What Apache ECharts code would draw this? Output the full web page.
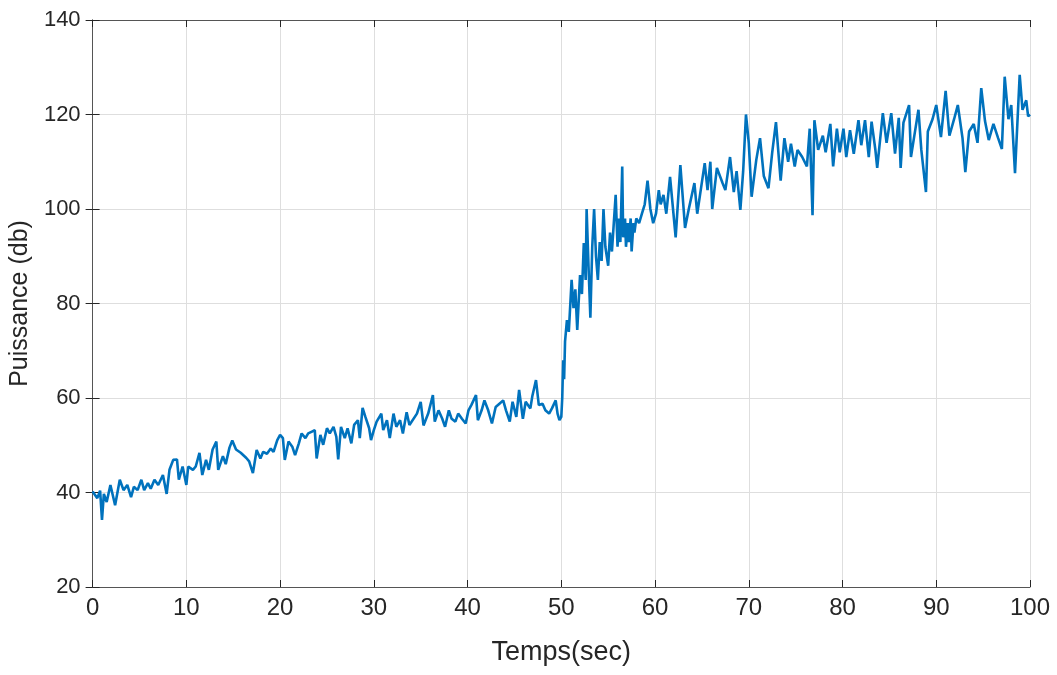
<!DOCTYPE html>
<html>
<head>
<meta charset="utf-8">
<title>Puissance</title>
<script src="https://cdn.jsdelivr.net/npm/echarts@6/dist/echarts.min.js"></script>
<style>
  html, body { margin: 0; padding: 0; background: #fff; }
  #chart { width: 1057px; height: 675px; }
</style>
</head>
<body>
<div id="chart"></div>
<script>
// valeurs (temps en s, puissance en db)
var tempsSec = [
  0, 0.5, 0.8, 1.0, 1.2, 1.5, 1.9, 2.4, 2.9, 3.3, 3.7, 4.1, 4.4, 4.8, 5.2, 5.5, 5.9, 6.2, 6.6, 7.0,
  7.5, 7.9, 8.2, 8.6, 9.0, 9.2, 9.6, 10.0, 10.2, 10.7, 11.0, 11.4, 11.7, 12.1, 12.4, 12.8, 13.2, 13.4,
  13.9, 14.2, 14.6, 14.9, 15.3, 15.8, 16.4, 16.7,
  17.1, 17.5, 17.9, 18.2, 18.6, 19.0, 19.3, 19.7, 20.0, 20.3, 20.5, 20.9, 21.3, 21.6, 22.0, 22.3, 22.7,
  23.0, 23.4, 23.7, 23.9, 24.3, 24.6, 25.0, 25.3, 25.7, 26.0, 26.2, 26.5, 26.9, 27.2, 27.6, 27.9, 28.3,
  28.5, 28.8, 29.1, 29.5, 29.7, 30.0, 30.3, 30.8, 31.0, 31.4, 31.7, 32.1, 32.4, 32.8, 33.1,
  33.5, 33.8, 34.0, 34.6, 35.0, 35.3, 35.8, 36.3, 36.5, 36.9, 37.3, 37.6, 38.0, 38.3, 38.7, 39.0, 39.4,
  39.8, 40.1, 40.4, 40.9, 41.1, 41.5, 41.8, 42.2, 42.6, 43.0, 43.4, 43.8, 44.1, 44.5, 44.8, 45.2, 45.5,
  45.9, 46.2, 46.7, 46.9, 47.3, 47.6, 48.0, 48.3, 48.7, 49.0, 49.4, 49.6, 49.8,
  50.0, 50.1, 50.2, 50.3, 50.4, 50.6, 50.8, 51.1, 51.3, 51.5, 51.7, 52.0, 52.2, 52.4, 52.6, 52.7, 52.9,
  53.1, 53.3, 53.5, 53.7, 53.9, 54.1, 54.3, 54.5, 54.7, 55.0, 55.2, 55.4, 55.6, 55.8, 56.0, 56.1, 56.3,
  56.5, 56.6, 56.8, 56.9, 57.1, 57.2, 57.4, 57.5, 57.7, 57.8, 58.0, 58.3, 58.6, 58.9, 59.2, 59.5, 59.8,
  60.1, 60.4, 60.6, 60.9, 61.2,
  61.6, 62.2, 62.7, 63.2, 63.6, 64.2, 64.5, 65.3, 65.6, 65.9, 66.1, 66.6, 67.2, 67.5, 68.0, 68.4, 68.7,
  69.1, 69.4, 69.7, 70.0, 70.3, 70.8, 71.2, 71.6, 72.1, 72.5, 72.9, 73.4, 73.8, 74.2, 74.5, 74.9, 75.2,
  75.7, 76.2, 76.5, 76.8, 77.0, 77.4, 77.9, 78.2, 78.7, 79.0, 79.4,
  79.7, 80.1, 80.4, 80.8, 81.2, 81.7, 82.0, 82.4, 82.8, 83.1, 83.5, 83.7, 84.3, 84.7, 85.2, 85.6, 86.0,
  86.2, 86.5, 87.1, 87.3, 87.7, 88.1, 88.4, 88.9, 89.1, 89.6, 90.0, 90.5, 91.0, 91.4, 91.9, 92.3, 92.8,
  93.1, 93.5, 94.0, 94.4, 94.8, 95.2, 95.6, 96.1, 96.6, 97.0, 97.3, 97.7, 98.0, 98.4, 98.9, 99.2, 99.6,
  99.8, 100
];
var puissanceDb = [
  40.2, 38.8, 40.4, 34.2, 39.7, 38.0, 41.6, 37.3, 42.7, 40.5, 41.6, 39.0, 41.2, 40.5, 42.7, 40.5, 42.0, 40.8, 42.7, 41.6,
  43.7, 39.7, 44.8, 46.9, 47.0, 42.7, 45.5, 41.6, 45.5, 44.8, 45.5, 48.4, 43.7, 46.9, 44.8, 49.1, 50.8, 44.8,
  47.7, 46.0, 49.5, 51.0, 49.1, 48.4, 47.3, 46.6,
  44.1, 49.0, 47.2, 48.6, 48.2, 49.3, 48.6, 51.1, 52.2, 51.5, 46.9, 50.8, 49.7, 47.9, 50.4, 52.5, 51.5,
  52.5, 52.9, 53.2, 47.2, 52.2, 50.1, 53.6, 52.5, 53.9, 51.8, 47.0, 53.9, 51.5, 53.6, 50.4, 54.3, 55.3,
  51.5, 57.9, 56.0, 53.6, 51.1, 53.2, 55.0, 56.7, 53.2, 55.3, 51.5, 56.7, 53.9, 55.3, 52.5,
  57.0, 54.3, 54.2, 56.7, 59.2, 54.2, 56.7, 60.6, 55.0, 57.4, 55.6, 53.9, 57.4, 55.6, 55.0, 56.7, 55.6,
  54.6, 57.4, 58.5, 60.6, 55.3, 57.4, 59.5, 57.4, 54.6, 58.1, 58.8, 59.5, 57.4, 55.0, 59.2, 56.0, 61.7,
  55.6, 59.2, 57.8, 60.3, 63.8, 58.5, 58.8, 57.4, 56.7, 57.8, 59.5, 56.7, 55.3,
  56.0, 60.0, 68.0, 64.0, 72.0, 76.5, 74.0, 85.0, 79.0, 83.0, 74.4, 86.0, 82.0, 92.8, 85.0, 100.0, 88.0,
  77.0, 92.0, 100.0, 90.0, 85.0, 93.0, 89.0, 100.0, 92.0, 88.0, 95.0, 91.0, 97.0, 103.0, 92.0, 98.0, 93.0,
  109.0, 94.0, 98.0, 92.0, 97.0, 93.0, 98.0, 91.0, 97.0, 95.0, 98.0, 97.0, 99.0, 101.0, 106.0, 100.0, 97.0,
  99.0, 104.0, 101.0, 103.0, 99.0,
  106.8, 94.0, 109.3, 96.0, 100.0, 105.5, 99.0, 109.7, 104.0, 110.0, 100.0, 108.7, 105.5, 104.0, 111.0, 103.6, 108.0,
  99.8, 108.0, 120.0, 114.0, 102.6, 110.4, 115.0, 107.0, 104.4, 112.0, 118.4, 106.0, 115.0, 110.0, 113.8, 109.0, 112.5,
  111.0, 109.0, 117.0, 98.7, 118.8, 112.5, 115.5, 112.0, 118.0, 109.0, 117.0,
  112.0, 117.0, 111.0, 116.7, 111.7, 118.8, 113.5, 118.8, 111.0, 118.5, 112.6, 108.7, 120.3, 114.0, 120.3, 111.7, 119.3,
  108.7, 118.3, 122.0, 111.0, 116.0, 121.0, 112.6, 103.6, 116.4, 119.0, 122.0, 115.2, 125.0, 115.5, 119.0, 122.0, 115.0,
  107.8, 116.4, 118.0, 114.0, 125.6, 118.6, 114.6, 118.0, 115.0, 112.7, 128.0, 119.0, 122.0, 107.6, 128.4, 121.0, 123.0,
  119.6, 120.0
];

var chart = echarts.init(document.getElementById('chart'));

// les chiffres de l'axe x sont tassés dans la figure d'origine
var narrow = "'Liberation Sans Narrow', 'Liberation Sans', 'DejaVu Sans', sans-serif";
var arial = "'Liberation Sans', Arial, sans-serif";
var boxColor = '#555';
var tickStyle = { show: true, inside: true, length: 7, lineStyle: { color: '#262626', width: 1 } };

var points = tempsSec.map(function(t, i) {
  return [t, puissanceDb[i]];
});

var option = {
  animation: false,
  backgroundColor: '#fff',
  grid: { left: 92, right: 27, top: 20, bottom: 88, containLabel: false },
  xAxis: [
    {
      type: 'value', min: 0, max: 100, interval: 10,
      name: 'Temps(sec)', nameLocation: 'middle', nameGap: 52,
      nameTextStyle: { fontFamily: narrow, fontWeight: 'condensed', fontSize: 27, color: '#262626' },
      axisLine: { show: true, onZero: false, lineStyle: { color: boxColor } },
      axisTick: tickStyle,
      axisLabel: { fontFamily: narrow, fontWeight: 'condensed', fontSize: 24, color: '#262626', margin: 9 },
      splitLine: { show: true, lineStyle: { color: '#dedede', width: 1 } }
    },
    {
      type: 'value', min: 0, max: 100, interval: 10, position: 'top',
      axisLine: { show: true, lineStyle: { color: boxColor } },
      axisTick: tickStyle,
      axisLabel: { show: false },
      splitLine: { show: false }
    }
  ],
  yAxis: [
    {
      type: 'value', min: 20, max: 140, interval: 20,
      name: 'Puissance (db)', nameLocation: 'middle', nameGap: 52,
      nameTextStyle: { fontFamily: arial, fontSize: 25, color: '#262626' },
      axisLine: { show: true, onZero: false, lineStyle: { color: boxColor } },
      axisTick: tickStyle,
      axisLabel: { fontFamily: arial, fontSize: 22, color: '#262626', margin: 12 },
      splitLine: { show: true, lineStyle: { color: '#dedede', width: 1 } }
    },
    {
      type: 'value', min: 20, max: 140, interval: 20, position: 'right',
      axisLine: { show: true, lineStyle: { color: boxColor } },
      axisTick: tickStyle,
      axisLabel: { show: false },
      splitLine: { show: false }
    }
  ],
  series: [
    {
      type: 'line',
      data: points,
      showSymbol: false,
      symbol: 'none',
      lineStyle: { color: '#0072BD', width: 2.6 },
      clip: true
    }
  ]
};

chart.setOption(option);
</script>
</body>
</html>
